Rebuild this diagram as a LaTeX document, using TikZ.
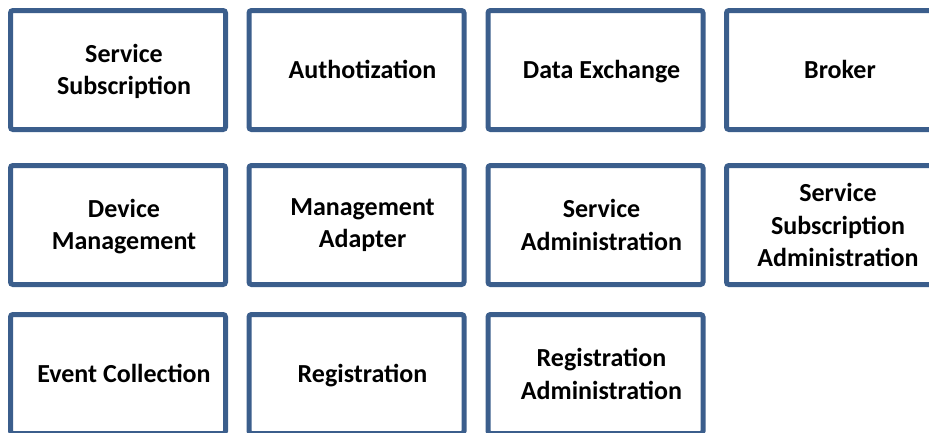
\documentclass[tikz,border=0pt]{standalone}
\usepackage{fontspec}
\setmainfont{Carlito}
\definecolor{boxblue}{HTML}{3B5E8C}
\tikzset{
  box/.style={draw=boxblue, line width=5pt, rounded corners=2.5pt, fill=white,
    minimum width=215pt, minimum height=119pt, inner sep=0pt},
  lbl/.style={align=center, font=\bfseries\fontsize{26}{32.5}\selectfont, text=black, inner sep=0pt},
  onelbl/.style={lbl, text height=16.7pt, text depth=0pt}
}
\begin{document}
\begin{tikzpicture}[x=1pt,y=-1pt]
\useasboundingbox (0,0) rectangle (929,432);
\clip (0,0) rectangle (929,432);
% row 1
\node[box] (ss)  at (118,70) {};
\node[box] (au)  at (356.5,70) {};
\node[box] (de)  at (595.5,70) {};
\node[box] (br)  at (834,70) {};
% row 2
\node[box] (dm)  at (118,225) {};
\node[box] (ma)  at (356.5,225) {};
\node[box] (sa)  at (595.5,225) {};
\node[box] (ssa) at (834,225) {};
% row 3
\node[box] (ec)  at (118,374) {};
\node[box] (rg)  at (356.5,374) {};
\node[box] (ra)  at (595.5,374) {};
% labels
\node[lbl] (tss)  at ([xshift=6pt,yshift=-1.5pt]ss.center)  {Service\\Subscription};
\node[onelbl] (tau)  at ([xshift=6pt]au.center)  {Authotization};
\node[onelbl] (tde)  at ([xshift=6pt]de.center)  {Data Exchange};
\node[onelbl] (tbr)  at ([xshift=6pt]br.center)  {Broker};
\node[lbl] (tdm)  at ([xshift=6pt,yshift=-1.5pt]dm.center)  {Device\\Management};
\node[lbl] (tma)  at ([xshift=6pt]ma.center)  {Management\\Adapter};
\node[lbl] (tsa)  at ([xshift=6pt]sa.center)  {Service\\Administration};
\node[lbl] (tssa) at ([xshift=4pt]ssa.center) {Service\\Subscription\\Administration};
\node[onelbl] (tec)  at ([xshift=6pt]ec.center)  {Event Collection};
\node[onelbl] (trg)  at ([xshift=6pt]rg.center)  {Registration};
\node[lbl] (tra)  at ([xshift=6pt]ra.center)  {Registration\\Administration};
\end{tikzpicture}
\end{document}
